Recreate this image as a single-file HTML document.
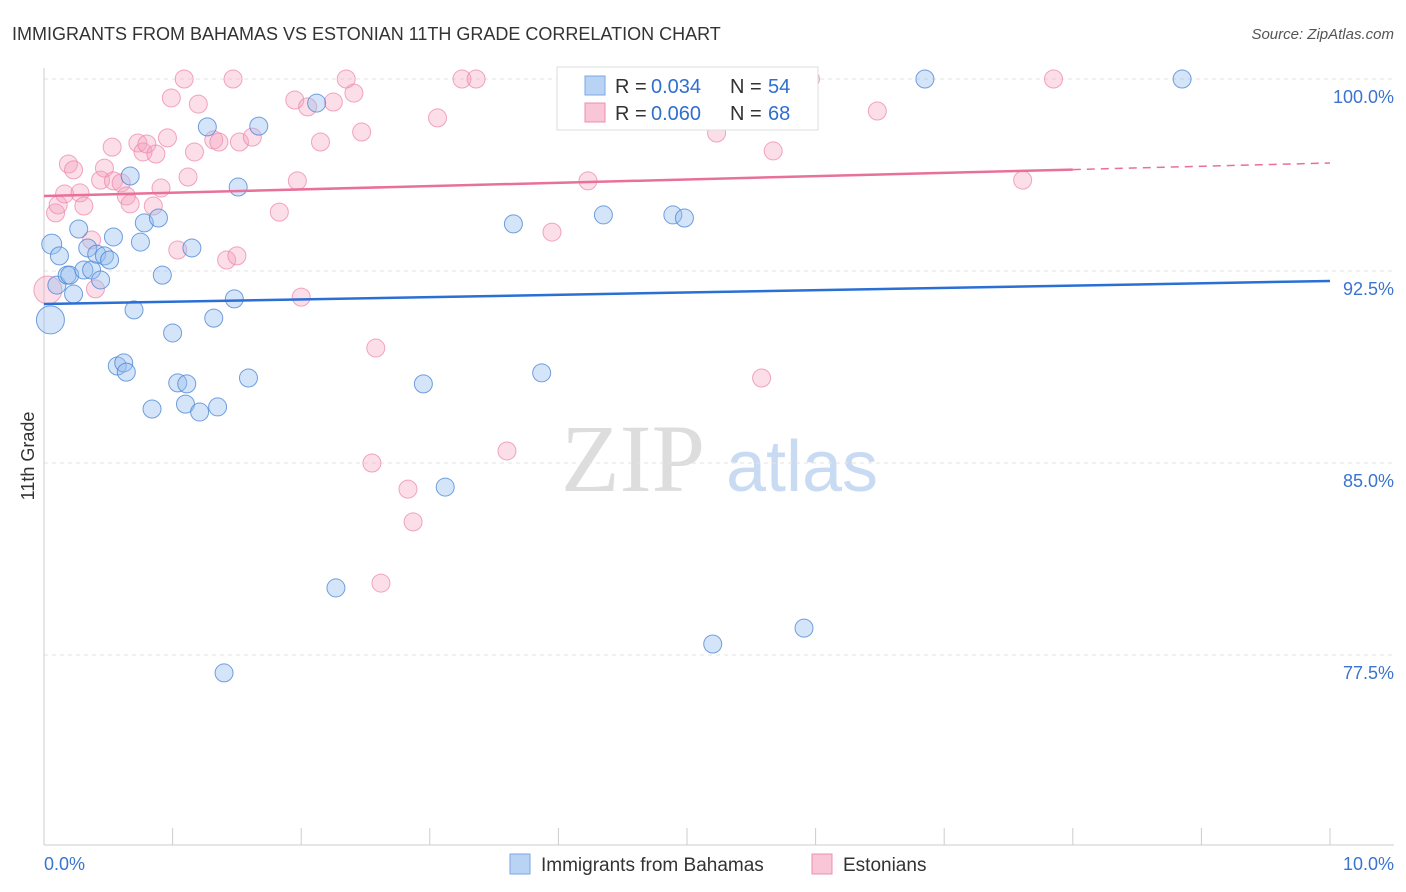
<!DOCTYPE html>
<html><head><meta charset="utf-8">
<style>
body{margin:0;background:#fff;font-family:"Liberation Sans",sans-serif;}
svg{display:block}
</style></head>
<body>
<svg id="chart" width="1406" height="892">
<text x="12" y="40" font-size="18" fill="#333">IMMIGRANTS FROM BAHAMAS VS ESTONIAN 11TH GRADE CORRELATION CHART</text>
<text x="1394" y="39" font-size="15" fill="#555" text-anchor="end" font-style="italic">Source: ZipAtlas.com</text>
<text x="34" y="456" font-size="18" fill="#333" text-anchor="middle" transform="rotate(-90 34 456)">11th Grade</text>
<g>
<text x="633" y="491" font-size="96" fill="#ddd" font-family="Liberation Serif,serif" text-anchor="middle">ZIP</text>
<text x="802" y="491" font-size="72" fill="#c9dbf2" text-anchor="middle">atlas</text>
</g>
<g id="grid"></g>
<g id="axes"></g>
<g id="pts"></g>
<g id="lines"></g>
<g>
<rect x="557" y="67" width="261" height="63" fill="#fff" stroke="#ddd"/>
<rect x="585" y="76" width="20" height="19" fill="#b9d3f5" stroke="#7aa7e3"/>
<text x="615" y="93" font-size="20" fill="#333">R =</text>
<text x="651" y="93" font-size="20" fill="#2f6fd0">0.034</text>
<text x="730" y="93" font-size="20" fill="#333">N =</text>
<text x="768" y="93" font-size="20" fill="#2f6fd0">54</text>
<rect x="585" y="103" width="20" height="19" fill="#f8c6d6" stroke="#ec8fae"/>
<text x="615" y="120" font-size="20" fill="#333">R =</text>
<text x="651" y="120" font-size="20" fill="#2f6fd0">0.060</text>
<text x="730" y="120" font-size="20" fill="#333">N =</text>
<text x="768" y="120" font-size="20" fill="#2f6fd0">68</text>
</g>
<g>
<rect x="510" y="854" width="20" height="20" fill="#b9d3f5" stroke="#7aa7e3"/>
<text x="541" y="871" font-size="19" fill="#333">Immigrants from Bahamas</text>
<rect x="812" y="854" width="20" height="20" fill="#f8c6d6" stroke="#ec8fae"/>
<text x="843" y="871" font-size="19" fill="#333">Estonians</text>
</g>
</svg>
<script>
const yTicks=[100,92.5,85,77.5];
const yTickLabels=["100.0%","92.5%","85.0%","77.5%"];
const xTickLabels=["0.0%","10.0%"];
const blueX=[0.05,0.06,0.12,0.1,0.18,0.2,0.23,0.27,0.31,0.34,0.37,0.41,0.44,0.47,0.51,0.54,0.57,0.62,0.64,0.67,0.7,0.75,0.78,0.84,0.89,0.92,1.0,1.04,1.1,1.11,1.15,1.21,1.27,1.32,1.35,1.4,1.48,1.51,1.59,1.67,2.12,2.27,2.95,3.12,3.65,3.87,4.35,4.89,4.98,5.2,5.91,6.85,8.85];
const blueY=[90.59,93.55,93.09,91.95,92.34,92.34,91.6,94.14,92.54,93.4,92.54,93.16,92.15,93.09,92.93,93.83,88.79,88.91,88.55,96.21,90.98,93.63,94.38,87.11,94.57,92.34,90.08,88.13,87.3,88.09,93.4,86.99,98.13,90.66,87.19,76.8,91.41,95.78,88.32,98.16,99.06,80.12,88.09,84.06,94.34,88.52,94.69,94.69,94.57,77.93,78.55,100,100];
const blueR=[14,10,9,9,9,9,9,9,9,9,9,9,9,9,9,9,9,9,9,9,9,9,9,9,9,9,9,9,9,9,9,9,9,9,9,9,9,9,9,9,9,9,9,9,9,9,9,9,9,9,9,9,9];
const pinkX=[0.03,0.09,0.11,0.16,0.19,0.23,0.28,0.31,0.37,0.4,0.44,0.47,0.53,0.54,0.6,0.64,0.67,0.73,0.77,0.8,0.85,0.87,0.91,0.96,0.99,1.04,1.09,1.12,1.17,1.2,1.32,1.36,1.42,1.47,1.5,1.52,1.62,1.83,1.95,1.97,2.0,2.05,2.15,2.25,2.35,2.41,2.47,2.55,2.58,2.62,2.83,2.87,3.06,3.25,3.36,3.6,3.95,4.09,4.23,5.23,5.58,5.67,5.96,6.48,7.61,7.85];
const pinkY=[91.76,94.77,95.08,95.51,96.68,96.45,95.55,95.04,93.71,91.8,96.05,96.52,97.34,96.02,95.94,95.43,95.12,97.5,97.15,97.46,95.04,97.07,95.74,97.7,99.26,93.32,100,96.17,97.15,99.02,97.62,97.54,92.93,100,93.09,97.54,97.73,94.8,99.18,96.02,91.48,98.91,97.54,99.1,100,99.45,97.93,85,89.49,80.31,83.98,82.7,98.48,100,100,85.47,94.02,99.34,96.02,97.89,88.32,97.19,100,98.75,96.05,100];
const blueTrend=[91.21,92.11];
const pinkTrend=[95.43,96.72];
const NS="http://www.w3.org/2000/svg";
const X0=44,X1=1330,Ytop=79,Yb=655;
function sx(v){return X0+(X1-X0)*v/10;}
function sy(v){return Ytop+(100-v)*(Yb-Ytop)/22.5;}
function mk(tag,attrs,parent){const e=document.createElementNS(NS,tag);for(const k in attrs)e.setAttribute(k,attrs[k]);parent.appendChild(e);return e;}
const grid=document.getElementById('grid'),axes=document.getElementById('axes');
yTicks.forEach((t,i)=>{
 const l=mk('line',{x1:X0,x2:1394,y1:sy(t),y2:sy(t),stroke:'#e3e3e3','stroke-dasharray':'4,4'},grid);
 
 
 const tx=mk('text',{x:1394,y:sy(t)+24,'font-size':18,fill:'#3a74d0','text-anchor':'end'},axes);
 tx.textContent=yTickLabels[i];
 
 
});
const ax=mk('line',{x1:X0,x2:1394,y1:845,y2:845,stroke:'#ccc'},axes);


const ay=mk('line',{x1:X0,x2:X0,y1:68,y2:845,stroke:'#ccc'},axes);


for(let i=0;i<=10;i++){const t=mk('line',{x1:sx(i),x2:sx(i),y1:828,y2:845,stroke:'#ccc'},axes);
 
 }
const xl0=mk('text',{x:44,y:870,'font-size':18,fill:'#3a74d0'},axes);xl0.textContent=xTickLabels[0];


const xl1=mk('text',{x:1394,y:870,'font-size':18,fill:'#3a74d0','text-anchor':'end'},axes);xl1.textContent=xTickLabels[1];


const pts=document.getElementById('pts');
pinkX.forEach((v,i)=>{const c=mk('circle',{cx:sx(v),cy:sy(pinkY[i]),r:i==0?14:9,fill:'rgba(244,160,190,0.35)',stroke:'rgba(236,130,168,0.7)','stroke-width':1},pts);
 
 });
blueX.forEach((v,i)=>{const c=mk('circle',{cx:sx(v),cy:sy(blueY[i]),r:blueR[i],fill:'rgba(150,190,240,0.4)',stroke:'rgba(70,130,210,0.75)','stroke-width':1},pts);
 
 });
const lines=document.getElementById('lines');
const bl=mk('line',{x1:sx(0),x2:sx(10),y1:sy(blueTrend[0]),y2:sy(blueTrend[1]),stroke:'#2a6fd4','stroke-width':2.5},lines);


const pm=pinkTrend[0]+(pinkTrend[1]-pinkTrend[0])*0.8;
const pl=mk('line',{x1:sx(0),x2:sx(8),y1:sy(pinkTrend[0]),y2:sy(pm),stroke:'#e8709a','stroke-width':2.5},lines);


const pd=mk('line',{x1:sx(8),x2:sx(10),y1:sy(pm),y2:sy(pinkTrend[1]),stroke:'#e8709a','stroke-width':1.5,'stroke-dasharray':'8,6'},lines);


</script>
</body></html>
